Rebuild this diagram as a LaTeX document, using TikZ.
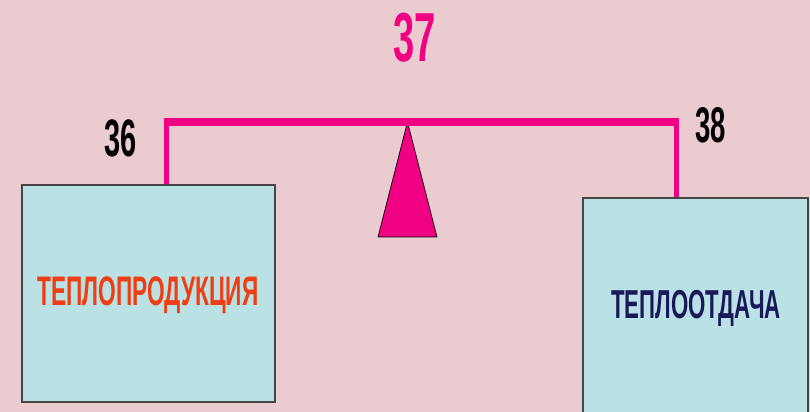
\documentclass[tikz,border=0pt]{standalone}
\usepackage{fontspec}
\setmainfont{Liberation Sans}
\usetikzlibrary{positioning,calc}
\definecolor{bgpink}{RGB}{234,204,208}
\definecolor{beamcol}{RGB}{240,0,130}
\definecolor{boxfill}{RGB}{186,225,228}
\definecolor{boxedge}{RGB}{70,70,70}
\definecolor{prodcol}{RGB}{238,62,20}
\definecolor{losscol}{RGB}{25,25,90}
\tikzset{
  heatbox/.style={draw=boxedge, line width=0.35mm, fill=boxfill, inner sep=0pt},
  boxtext/.style={font=\bfseries\fontsize{23.5}{28}\selectfont, xscale=0.55, inner sep=0pt},
  numlbl/.style={font=\bfseries\fontsize{#1}{#1}\selectfont, xscale=0.55, inner sep=0pt},
  beamln/.style={beamcol, line width=1.6mm},
  hangln/.style={beamcol, line width=1mm},
  fulcrum/.style={fill=beamcol, draw=black, line width=0.4pt, line join=miter},
}

\begin{document}
\begin{tikzpicture}[x=0.2mm, y=-0.2mm]
    % Background
    \fill[bgpink] (0,0) rectangle (810,412);
    \useasboundingbox (0,0) rectangle (810,412);
    % Boxes
    \node[heatbox, minimum width=50.6mm, minimum height=43.4mm] (prod) at (148.5,293.5) {};
    \node[heatbox, minimum width=45mm, minimum height=43.6mm] (loss) at (695.5,307) {};
    \node[boxtext, prodcol] (prodlbl) at (148,295) {ТЕПЛОПРОДУКЦИЯ};
    \node[boxtext, losscol, font=\bfseries\fontsize{23}{28}\selectfont] (losslbl) at (696,308) {ТЕПЛООТДАЧА};
    % Fulcrum
    \coordinate (apex) at (407.5,122);
    \coordinate (bl) at (378,237);
    \coordinate (br) at (437,237);
    \draw[fulcrum] (apex) -- (bl) -- (br) -- cycle;
    % Beam with hangers
    \coordinate (lhang) at ($(prod.north west)+(145,0)$);
    \coordinate (rhang) at ($(loss.north west)+(94,0)$);
    \coordinate (ltop) at (lhang |- apex);
    \coordinate (rtop) at (rhang |- apex);
    \draw[hangln] (lhang) -- ($(ltop)+(0,-4)$);
    \draw[hangln] (rhang) -- ($(rtop)+(0,-4)$);
    \draw[beamln] ($(ltop)+(-2.5,0)$) -- ($(rtop)+(2.5,0)$);
    % Temperatures
    \node[numlbl=39.5, beamcol] (tmid) at (415,38) {37};
    \node[numlbl=30, black] (tleft) at (121,138) {36};
    \node[numlbl=28.5, black] (tright) at (711,125) {38};
\end{tikzpicture}
\end{document}
